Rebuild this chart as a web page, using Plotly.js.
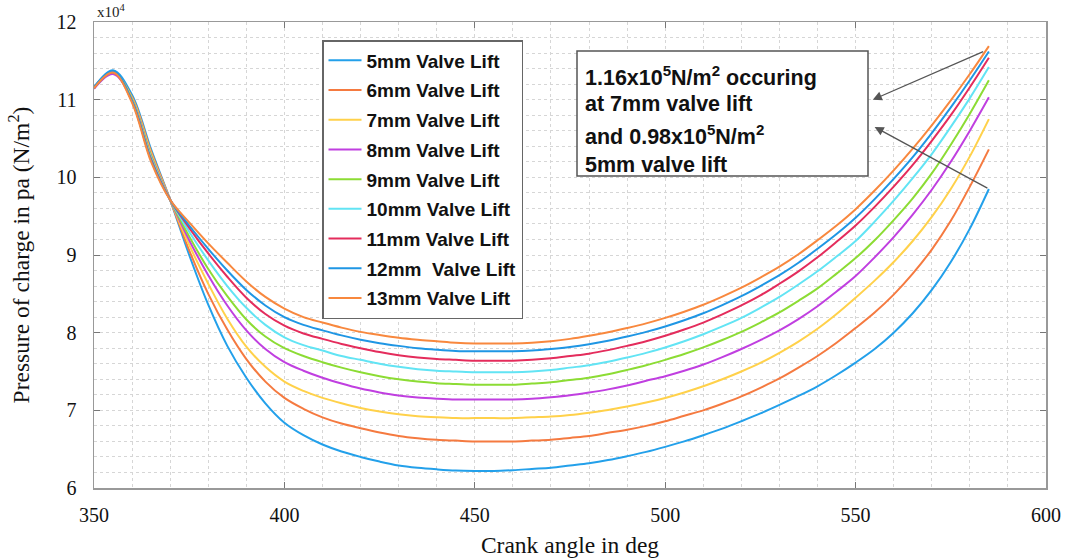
<!DOCTYPE html>
<html>
<head>
<meta charset="utf-8">
<script src="https://cdn.plot.ly/plotly-3.0.1.min.js"></script>
<style>html,body{margin:0;padding:0;background:#fff;}#chart{width:1067px;height:558px;}</style>
</head>
<body>
<div id="chart"></div>
<script>
// Crank angle (deg)
const crankAngle = [350, 355, 360, 365, 370, 375, 380, 385, 390, 395, 400, 405, 410, 415, 420, 425, 430, 435, 440, 445, 450, 455, 460, 465, 470, 475, 480, 485, 490, 495, 500, 505, 510, 515, 520, 525, 530, 535, 540, 545, 550, 555, 560, 565, 570, 575, 580, 585];

// Pressure of charge (x10^4 N/m^2) for each valve lift
const lift5mm  = [11.16, 11.38, 11.06, 10.36, 9.71, 9.00, 8.36, 7.83, 7.42, 7.09, 6.84, 6.68, 6.56, 6.47, 6.40, 6.34, 6.29, 6.26, 6.24, 6.225, 6.22, 6.22, 6.23, 6.245, 6.26, 6.29, 6.32, 6.36, 6.41, 6.465, 6.53, 6.60, 6.68, 6.765, 6.86, 6.96, 7.07, 7.185, 7.31, 7.455, 7.615, 7.79, 8.00, 8.25, 8.55, 8.91, 9.34, 9.85];
const lift6mm  = [11.15, 11.34, 11.03, 10.33, 9.71, 9.06, 8.50, 8.04, 7.66, 7.37, 7.16, 7.02, 6.91, 6.83, 6.77, 6.715, 6.67, 6.64, 6.62, 6.61, 6.60, 6.60, 6.60, 6.61, 6.62, 6.645, 6.67, 6.71, 6.75, 6.80, 6.86, 6.93, 7.00, 7.085, 7.18, 7.29, 7.41, 7.55, 7.70, 7.87, 8.06, 8.26, 8.49, 8.76, 9.07, 9.44, 9.88, 10.36];
const lift7mm  = [11.15, 11.35, 11.02, 10.31, 9.71, 9.13, 8.63, 8.18, 7.82, 7.56, 7.37, 7.25, 7.16, 7.09, 7.03, 6.985, 6.95, 6.925, 6.91, 6.90, 6.90, 6.90, 6.90, 6.91, 6.92, 6.94, 6.97, 7.005, 7.05, 7.10, 7.16, 7.23, 7.31, 7.40, 7.50, 7.61, 7.74, 7.885, 8.05, 8.24, 8.45, 8.67, 8.91, 9.18, 9.49, 9.85, 10.27, 10.75];
const lift8mm  = [11.14, 11.33, 11.00, 10.28, 9.71, 9.19, 8.74, 8.35, 8.03, 7.79, 7.62, 7.51, 7.42, 7.345, 7.28, 7.23, 7.19, 7.165, 7.15, 7.14, 7.14, 7.14, 7.14, 7.15, 7.17, 7.195, 7.23, 7.27, 7.32, 7.38, 7.44, 7.51, 7.59, 7.685, 7.79, 7.905, 8.03, 8.175, 8.34, 8.53, 8.73, 8.97, 9.23, 9.52, 9.84, 10.20, 10.60, 11.03];
const lift9mm  = [11.15, 11.35, 11.00, 10.27, 9.71, 9.24, 8.82, 8.47, 8.17, 7.95, 7.80, 7.70, 7.62, 7.55, 7.49, 7.44, 7.40, 7.37, 7.35, 7.34, 7.33, 7.33, 7.33, 7.345, 7.36, 7.39, 7.42, 7.465, 7.52, 7.58, 7.65, 7.725, 7.81, 7.905, 8.01, 8.13, 8.26, 8.41, 8.57, 8.76, 8.96, 9.19, 9.45, 9.73, 10.05, 10.42, 10.82, 11.25];
const lift10mm = [11.15, 11.35, 10.99, 10.25, 9.71, 9.30, 8.93, 8.60, 8.32, 8.10, 7.94, 7.84, 7.77, 7.70, 7.65, 7.60, 7.56, 7.53, 7.51, 7.50, 7.49, 7.49, 7.49, 7.50, 7.52, 7.55, 7.58, 7.625, 7.68, 7.74, 7.81, 7.89, 7.98, 8.08, 8.19, 8.32, 8.46, 8.62, 8.79, 8.98, 9.18, 9.43, 9.70, 9.99, 10.30, 10.65, 11.02, 11.42];
const lift11mm = [11.15, 11.35, 10.98, 10.23, 9.71, 9.35, 9.02, 8.72, 8.45, 8.24, 8.09, 7.99, 7.92, 7.855, 7.80, 7.75, 7.71, 7.68, 7.66, 7.65, 7.64, 7.64, 7.64, 7.65, 7.67, 7.70, 7.73, 7.775, 7.83, 7.89, 7.96, 8.04, 8.13, 8.235, 8.35, 8.48, 8.63, 8.79, 8.97, 9.17, 9.38, 9.62, 9.88, 10.16, 10.47, 10.80, 11.16, 11.54];
const lift12mm = [11.16, 11.37, 10.98, 10.22, 9.71, 9.38, 9.08, 8.80, 8.55, 8.35, 8.20, 8.10, 8.03, 7.965, 7.91, 7.865, 7.83, 7.80, 7.78, 7.765, 7.76, 7.76, 7.76, 7.77, 7.79, 7.815, 7.85, 7.895, 7.95, 8.01, 8.08, 8.16, 8.25, 8.355, 8.47, 8.60, 8.74, 8.90, 9.08, 9.27, 9.48, 9.72, 9.98, 10.26, 10.57, 10.90, 11.25, 11.62];
const lift13mm = [11.15, 11.35, 10.96, 10.20, 9.71, 9.42, 9.15, 8.90, 8.66, 8.46, 8.31, 8.20, 8.13, 8.065, 8.01, 7.97, 7.935, 7.91, 7.89, 7.87, 7.86, 7.86, 7.86, 7.87, 7.89, 7.92, 7.96, 8.005, 8.06, 8.12, 8.19, 8.27, 8.36, 8.465, 8.58, 8.71, 8.85, 9.01, 9.19, 9.38, 9.59, 9.83, 10.09, 10.37, 10.67, 10.99, 11.33, 11.69];

const seriesNames = ['5mm Valve Lift', '6mm Valve Lift', '7mm Valve Lift', '8mm Valve Lift', '9mm Valve Lift', '10mm Valve Lift', '11mm Valve Lift', '12mm\u00a0 Valve Lift', '13mm Valve Lift'];
const seriesValues = [lift5mm, lift6mm, lift7mm, lift8mm, lift9mm, lift10mm, lift11mm, lift12mm, lift13mm];
const seriesColors = ['#23a0ea', '#f57a40', '#ffd14a', '#c03fe0', '#8cdc34', '#62e4f4', '#e42c5c', '#1f96e4', '#f8883e'];

const xTickVals = [350, 400, 450, 500, 550, 600];
const yTickVals = [6, 7, 8, 9, 10, 11, 12];

const traces = seriesValues.map((v, i) => ({
  type: 'scatter', mode: 'lines', x: crankAngle, y: v, name: seriesNames[i],
  legendgroup: 'g' + i,
  line: {color: seriesColors[i], width: 2, shape: 'spline', smoothing: 1}
}));

const serif = 'Liberation Serif, Times New Roman, serif';
const sans = 'Liberation Sans, Arial, sans-serif';
const gridC = '#d6d6d6';

function px2x(p) { return (p - 94) / 952; }
function px2y(p) { return (488 - p) / 466; }

const annotLines = [
  {t: '1.16x10<sup>5</sup>N/m<sup>2</sup> occuring', y: 76},
  {t: 'at 7mm valve lift', y: 104},
  {t: 'and 0.98x10<sup>5</sup>N/m<sup>2</sup>', y: 135},
  {t: '5mm valve lift', y: 165}
];

const annotations = annotLines.map(l => ({
  xref: 'paper', yref: 'paper', x: px2x(583), y: px2y(l.y), xanchor: 'left', yanchor: 'middle',
  text: l.t, showarrow: false, align: 'left',
  font: {family: sans, size: 21.5, color: '#111', weight: 'bold'}
}));

annotations.push({
  xref: 'x', yref: 'y', axref: 'x', ayref: 'y', x: 554.5, y: 11.0, ax: 583.9, ay: 11.627,
  text: '', showarrow: true, arrowhead: 2, arrowsize: 1.4, arrowwidth: 1.3, arrowcolor: '#555'
});
annotations.push({
  xref: 'x', yref: 'y', axref: 'x', ayref: 'y', x: 555.0, y: 10.648, ax: 585, ay: 9.85,
  text: '', showarrow: true, arrowhead: 2, arrowsize: 1.4, arrowwidth: 1.3, arrowcolor: '#555'
});
annotations.push({
  xref: 'paper', yref: 'paper', x: px2x(95), y: px2y(22), xanchor: 'left', yanchor: 'bottom',
  text: 'x10<sup>4</sup>', showarrow: false, font: {family: serif, size: 15, color: '#222'}
});

const layout = {
  width: 1067, height: 558,
  margin: {l: 94, r: 21, t: 22, b: 70},
  paper_bgcolor: '#fff', plot_bgcolor: '#fff',
  showlegend: true,
  legend: {
    x: px2x(322), y: px2y(40), xanchor: 'left', yanchor: 'top',
    bgcolor: '#fff', bordercolor: '#666', borderwidth: 1.5,
    font: {family: sans, size: 19, color: '#111', weight: 'bold'},
    tracegroupgap: 2, itemwidth: 33
  },
  xaxis: {
    range: [350, 600], tickvals: xTickVals, ticks: 'inside', ticklen: 6, tickcolor: '#777',
    showline: true, linecolor: '#999', linewidth: 1.5, mirror: 'ticks',
    showgrid: true, gridcolor: gridC, griddash: 'dot', gridwidth: 1, zeroline: false,
    minor: {dtick: 10, showgrid: true, gridcolor: gridC, griddash: 'dot', gridwidth: 1},
    tickfont: {family: serif, size: 20, color: '#111'}, ticklabelstandoff: 8,
    title: {text: 'Crank angle in deg', font: {family: serif, size: 23.5, color: '#111'}, standoff: 15}
  },
  yaxis: {
    range: [6, 12], tickvals: yTickVals, ticks: 'inside', ticklen: 6, tickcolor: '#777',
    showline: true, linecolor: '#999', linewidth: 1.5, mirror: 'ticks',
    showgrid: true, gridcolor: gridC, griddash: 'dot', gridwidth: 1, zeroline: false,
    minor: {dtick: 0.2, showgrid: true, gridcolor: gridC, griddash: 'dot', gridwidth: 1},
    tickfont: {family: serif, size: 20, color: '#111'}, ticklabelstandoff: 12,
    title: {text: 'Pressure of charge in pa (N/m<sup>2</sup>)', font: {family: serif, size: 23.5, color: '#111'}, standoff: 20}
  },
  shapes: [{
    type: 'rect', xref: 'paper', yref: 'paper',
    x0: px2x(577), x1: px2x(868), y0: px2y(176), y1: px2y(51),
    line: {color: '#555', width: 1.5}, fillcolor: '#fff', layer: 'above'
  }],
  annotations: annotations
};

Plotly.newPlot('chart', traces, layout, {displayModeBar: false, staticPlot: true});
</script>
</body>
</html>
